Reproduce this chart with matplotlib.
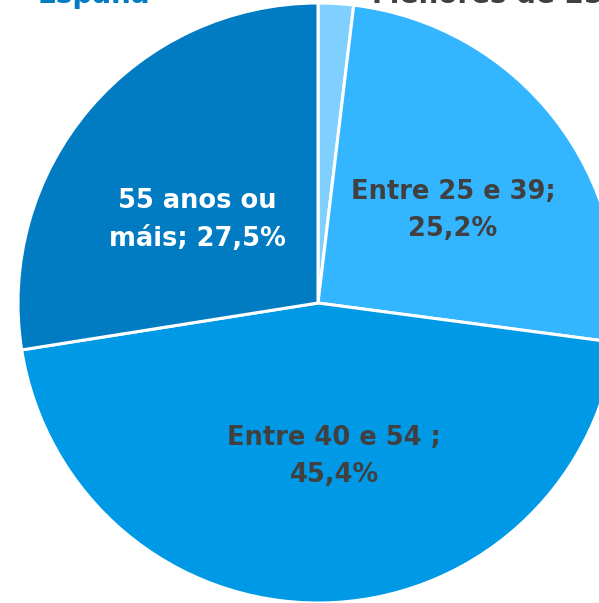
import matplotlib
matplotlib.use("Agg")
import matplotlib.pyplot as plt

categories = ["Menores de 25", "Entre 25 e 39", "Entre 40 e 54", "55 anos ou máis"]
values = [1.9, 25.2, 45.4, 27.5]
labels = ["", "Entre 25 e 39;\n25,2%", "Entre 40 e 54 ;\n45,4%", "55 anos ou\nmáis; 27,5%"]
colors = ["#80d0ff", "#33b5ff", "#0099e6", "#017cc3"]
label_colors = ["#404040", "#404040", "#404040", "#ffffff"]
label_pos = [None, (453, 393), (334, 146), (197, 383)]

W, H = 599, 603
fig = plt.figure(figsize=(W / 100, H / 100), dpi=100)
ax = fig.add_axes([0, 0, 1, 1])
ax.set_xlim(0, W)
ax.set_ylim(0, H)
ax.set_aspect("equal")
ax.axis("off")

wedges, _ = ax.pie(values, colors=colors, startangle=90, counterclock=False,
                   center=(318, 300), radius=300,
                   wedgeprops=dict(edgecolor="white", linewidth=2.2))
ax.set_xlim(0, W)
ax.set_ylim(0, H)

for lab, col, pos in zip(labels, label_colors, label_pos):
    if pos is None:
        continue
    ax.text(pos[0], pos[1], lab, ha="center", va="center", color=col,
            fontsize=18.5, fontweight="bold", family="DejaVu Sans", linespacing=1.55)

# Cropped title and outside label at the top
ax.text(38, H - 3, "España", ha="left", va="baseline", color="#017cc3",
        fontsize=20, fontweight="bold", family="DejaVu Sans")
ax.text(372, H - 3, categories[0], ha="left", va="baseline", color="#404040",
        fontsize=20, fontweight="bold", family="DejaVu Sans")

fig.savefig("out.png", dpi=100)
